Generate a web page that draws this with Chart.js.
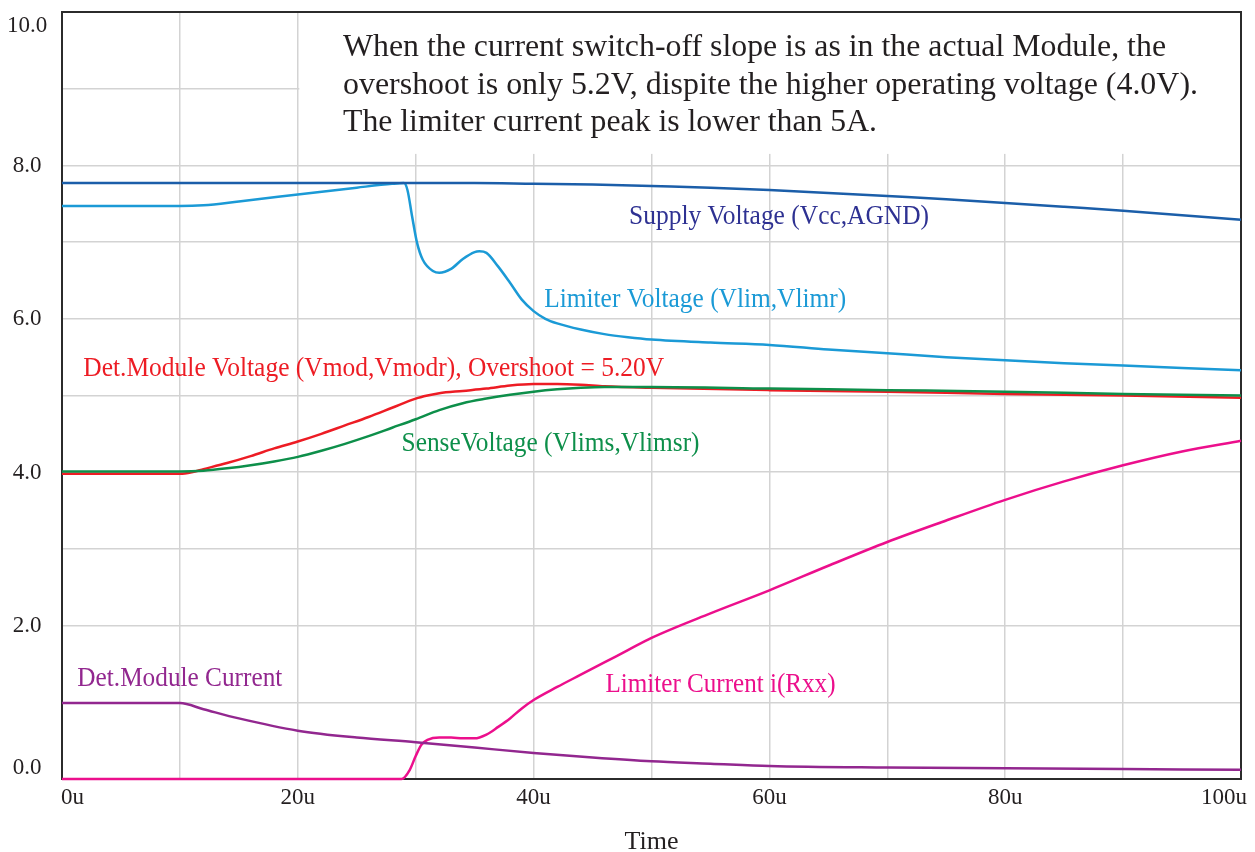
<!DOCTYPE html>
<html>
<head>
<meta charset="utf-8">
<script src="https://cdn.jsdelivr.net/npm/chart.js@4.4.1/dist/chart.umd.min.js"></script>
<style>
  html, body { margin: 0; padding: 0; background: #fff; }
  #wrap { width: 1255px; height: 852px; }
</style>
</head>
<body>
<div id="wrap"><canvas id="simChart" width="1255" height="852"></canvas></div>
<script>
// axis ticks
const timeTicks = [0, 20, 40, 60, 80, 100];
const timeTickLabels = ['0u', '20u', '40u', '60u', '80u', '100u'];
const voltTicks = [0, 2, 4, 6, 8, 10];
const voltTickLabels = ['0.0', '2.0', '4.0', '6.0', '8.0', '10.0'];

// Supply Voltage (Vcc,AGND)
const supplyTime = [0, 10, 20, 30, 35, 40, 45, 50, 55, 60, 65, 70, 75, 80, 85, 90, 95, 100];
const supplyVolts = [7.77, 7.77, 7.77, 7.77, 7.77, 7.76, 7.75, 7.73, 7.71, 7.68, 7.64, 7.60, 7.56, 7.51, 7.46, 7.41, 7.35, 7.29];

// Limiter Voltage (Vlim,Vlimr)
const limVTime = [0, 10, 12, 15, 20, 25, 28, 29, 29.3, 29.7, 30.1, 30.6, 31.5, 32, 33, 34, 35, 35.4, 36, 37, 38, 39, 40, 41, 42, 44, 46, 48, 50, 55, 60, 65, 70, 75, 80, 85, 90, 95, 100];
const limVVolts = [7.47, 7.47, 7.48, 7.53, 7.62, 7.71, 7.76, 7.77, 7.68, 7.33, 7.00, 6.77, 6.62, 6.60, 6.65, 6.78, 6.87, 6.88, 6.86, 6.68, 6.47, 6.25, 6.10, 6.00, 5.94, 5.86, 5.80, 5.76, 5.73, 5.69, 5.66, 5.60, 5.55, 5.50, 5.46, 5.42, 5.39, 5.36, 5.33];

// Det.Module Voltage (Vmod,Vmodr)
const modVTime = [0, 10, 11, 12, 14, 16, 18, 20, 22, 24, 26, 28, 30, 31, 32, 34, 36, 38, 40, 42, 44, 46, 50, 60, 70, 80, 90, 100];
const modVVolts = [3.98, 3.98, 4.00, 4.04, 4.12, 4.21, 4.31, 4.40, 4.50, 4.61, 4.72, 4.84, 4.96, 5.00, 5.03, 5.06, 5.09, 5.13, 5.15, 5.15, 5.14, 5.12, 5.10, 5.07, 5.05, 5.02, 5.00, 4.97];

// SenseVoltage (Vlims,Vlimsr)
const senseTime = [0, 10, 12, 14, 16, 18, 20, 22, 24, 26, 28, 30, 32, 34, 36, 38, 40, 42, 44, 46, 50, 60, 70, 80, 90, 100];
const senseVolts = [4.01, 4.01, 4.02, 4.05, 4.09, 4.14, 4.20, 4.28, 4.37, 4.47, 4.58, 4.69, 4.81, 4.90, 4.96, 5.01, 5.05, 5.08, 5.10, 5.11, 5.11, 5.09, 5.07, 5.05, 5.02, 5.00];

// Det.Module Current
const modITime = [0, 10, 12, 15, 20, 25, 30, 35, 40, 45, 50, 55, 60, 70, 80, 90, 100];
const modIAmps = [0.99, 0.99, 0.91, 0.79, 0.63, 0.54, 0.48, 0.41, 0.34, 0.28, 0.23, 0.20, 0.17, 0.15, 0.14, 0.13, 0.12];

// Limiter Current i(Rxx)
const limITime = [0, 28.8, 29.5, 30, 30.5, 31, 32, 33, 34, 35, 36, 37, 38, 39, 40, 42, 44, 46, 48, 50, 55, 60, 65, 70, 75, 80, 85, 90, 95, 100];
const limIAmps = [0, 0, 0.12, 0.30, 0.45, 0.51, 0.54, 0.54, 0.53, 0.53, 0.58, 0.68, 0.79, 0.92, 1.03, 1.20, 1.36, 1.52, 1.68, 1.84, 2.16, 2.46, 2.78, 3.09, 3.37, 3.64, 3.88, 4.09, 4.27, 4.41];

const noteLines = [
  'When the current switch-off slope is as in the actual Module, the',
  'overshoot is only 5.2V, dispite the higher operating voltage (4.0V).',
  'The limiter current peak is lower than 5A.'
];

const SERIF = '"Liberation Serif", "Times New Roman", serif';
const INK = '#231f20';

function pairs(xs, ys) {
  return xs.map((x, i) => ({ x: x, y: ys[i] }));
}

function makeSet(label, xs, ys, color) {
  return {
    label: label,
    data: pairs(xs, ys),
    borderColor: color,
    borderWidth: 2.5,
    pointRadius: 0,
    fill: false,
    cubicInterpolationMode: 'monotone',
    clip: 4
  };
}

// in-plot captions, anchored (baseline-left) in data units
const captions = [
  { text: 'Supply Voltage (Vcc,AGND)', color: '#2e3192', t: 48.1, v: 7.24, w: 300 },
  { text: 'Limiter Voltage (Vlim,Vlimr)', color: '#1b9ad6', t: 40.9, v: 6.15, w: 302 },
  { text: 'Det.Module Voltage (Vmod,Vmodr), Overshoot = 5.20V', color: '#ed1c24', t: 1.8, v: 5.26, w: 581 },
  { text: 'SenseVoltage (Vlims,Vlimsr)', color: '#0d8f4a', t: 28.8, v: 4.27, w: 298 },
  { text: 'Det.Module Current', color: '#92278f', t: 1.3, v: 1.21, w: 205 },
  { text: 'Limiter Current i(Rxx)', color: '#ec0f8c', t: 46.1, v: 1.13, w: 230 }
];

function fitText(ctx, text, x, y, targetW) {
  const w = ctx.measureText(text).width;
  const k = targetW ? targetW / w : 1;
  ctx.save();
  ctx.translate(x, y);
  ctx.scale(k, 1);
  ctx.fillText(text, 0, 0);
  ctx.restore();
}

const decorPlugin = {
  id: 'decor',
  beforeDatasetsDraw(chart) {
    const { ctx, chartArea: a, scales } = chart;
    // white note box over the grid
    const bx = scales.x.getPixelForValue(20) + 1.5;
    const by = scales.y.getPixelForValue(8.15);
    ctx.save();
    ctx.fillStyle = '#ffffff';
    ctx.fillRect(bx, a.top, a.right - bx, by - a.top);
    // frame
    ctx.strokeStyle = '#2b2b2b';
    ctx.lineWidth = 2;
    ctx.strokeRect(a.left, a.top, a.right - a.left, a.bottom - a.top);
    ctx.restore();
  },
  afterDraw(chart) {
    const { ctx, chartArea: a, scales } = chart;
    ctx.save();
    ctx.fillStyle = INK;
    ctx.font = '23px ' + SERIF;
    ctx.textBaseline = 'alphabetic';
    ctx.textAlign = 'center';

    voltTicks.forEach((v, i) => {
      let y = scales.y.getPixelForValue(v) + 6.5;
      y = Math.min(Math.max(y, a.top + 20), a.bottom - 5);
      ctx.fillText(voltTickLabels[i], 27, y);
    });

    timeTicks.forEach((t, i) => {
      const txt = timeTickLabels[i];
      const w = ctx.measureText(txt).width;
      let x = scales.x.getPixelForValue(t);
      x = Math.min(Math.max(x, a.left - 1 + w / 2), chart.width - 8 - w / 2);
      ctx.fillText(txt, x, a.bottom + 25);
    });

    ctx.font = '26px ' + SERIF;
    ctx.fillText('Time', (a.left + a.right) / 2, a.bottom + 70);

    // note text
    ctx.textAlign = 'left';
    ctx.font = '31.5px ' + SERIF;
    const noteW = [823, 855, 534];
    noteLines.forEach((line, i) => {
      fitText(ctx, line, 343, 56 + i * 37.5, noteW[i]);
    });

    // captions
    ctx.font = '26.5px ' + SERIF;
    captions.forEach(c => {
      ctx.fillStyle = c.color;
      fitText(ctx, c.text, scales.x.getPixelForValue(c.t), scales.y.getPixelForValue(c.v), c.w);
    });
    ctx.restore();
  }
};

const ctx = document.getElementById('simChart').getContext('2d');
new Chart(ctx, {
  type: 'line',
  data: {
    datasets: [
      makeSet('Supply Voltage (Vcc,AGND)', supplyTime, supplyVolts, '#1b5ea9'),
      makeSet('Limiter Voltage (Vlim,Vlimr)', limVTime, limVVolts, '#1b9ad6'),
      makeSet('SenseVoltage (Vlims,Vlimsr)', senseTime, senseVolts, '#0d8f4a'),
      makeSet('Det.Module Voltage (Vmod,Vmodr)', modVTime, modVVolts, '#ed1c24'),
      makeSet('Det.Module Current', modITime, modIAmps, '#92278f'),
      makeSet('Limiter Current i(Rxx)', limITime, limIAmps, '#ec0f8c')
    ]
  },
  options: {
    responsive: false,
    devicePixelRatio: 1,
    animation: false,
    layout: { padding: { left: 62, right: 14, top: 12, bottom: 73 } },
    plugins: {
      legend: { display: false },
      tooltip: { enabled: false }
    },
    scales: {
      x: {
        type: 'linear',
        min: 0,
        max: 100,
        ticks: { stepSize: 10, display: false },
        grid: { color: '#d3d3d3', lineWidth: 1.5, drawTicks: false },
        border: { display: false },
        afterFit(s) { s.height = 0; }
      },
      y: {
        min: 0,
        max: 10,
        ticks: { stepSize: 1, display: false },
        grid: { color: '#d3d3d3', lineWidth: 1.5, drawTicks: false },
        border: { display: false },
        afterFit(s) { s.width = 0; }
      }
    }
  },
  plugins: [decorPlugin]
});
</script>
</body>
</html>
